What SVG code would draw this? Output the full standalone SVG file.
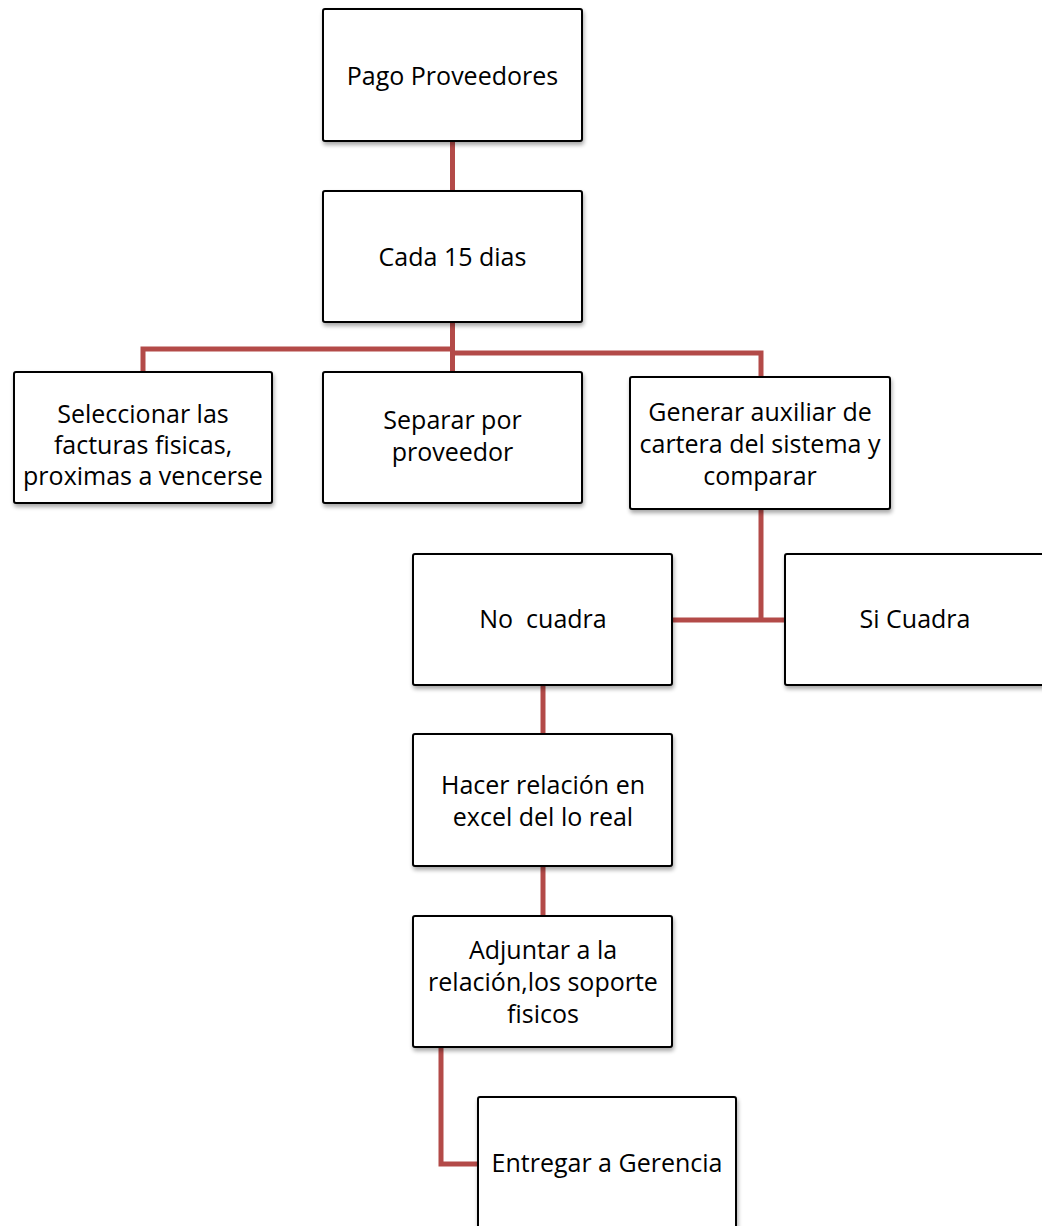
<svg xmlns="http://www.w3.org/2000/svg" width="1042" height="1226" viewBox="0 0 1042 1226">
  <defs>
    <filter id="shadow" x="-10%" y="-10%" width="130%" height="130%">
      <feGaussianBlur in="SourceAlpha" stdDeviation="2"/>
      <feOffset dx="1" dy="3" result="b"/>
      <feComponentTransfer><feFuncA type="linear" slope="0.35"/></feComponentTransfer>
      <feMerge><feMergeNode/><feMergeNode in="SourceGraphic"/></feMerge>
    </filter>
  </defs>
  <style>
    .box { fill: #ffffff; stroke: #000000; stroke-width: 2; filter: url(#shadow); }
    .lbl { font-family: "Open Sans", "Liberation Sans", sans-serif; font-size: 25px; fill: #000000; text-anchor: middle; }
    .wire { fill: none; stroke: #b34a48; stroke-width: 5; stroke-linejoin: miter; }
  </style>
  <rect width="1042" height="1226" fill="#ffffff"/>

  <g id="connectors">
    <line class="wire" x1="452.5" y1="141" x2="452.5" y2="191"/>
    <line class="wire" x1="452.5" y1="322" x2="452.5" y2="372"/>
    <polyline class="wire" points="452.5,349 143,349 143,372"/>
    <polyline class="wire" points="452.5,353 761,353 761,377"/>
    <line class="wire" x1="761" y1="509" x2="761" y2="620"/>
    <line class="wire" x1="672" y1="620" x2="785" y2="620"/>
    <line class="wire" x1="543" y1="685" x2="543" y2="734"/>
    <line class="wire" x1="543" y1="866" x2="543" y2="916"/>
    <polyline class="wire" points="441,1047 441,1164 478,1164"/>
  </g>

  <g id="pago-proveedores">
    <rect class="box" x="323" y="9" width="259" height="132" rx="2"/>
    <text class="lbl" x="452.5" y="85">Pago Proveedores</text>
  </g>

  <g id="cada-15-dias">
    <rect class="box" x="323" y="191" width="259" height="131" rx="2"/>
    <text class="lbl" x="452.5" y="266">Cada 15 dias</text>
  </g>

  <g id="seleccionar">
    <rect class="box" x="14" y="372" width="258" height="131" rx="2"/>
    <text class="lbl" x="143" y="423">Seleccionar las</text>
    <text class="lbl" x="143" y="454">facturas fisicas,</text>
    <text class="lbl" x="143" y="485">proximas a vencerse</text>
  </g>

  <g id="separar">
    <rect class="box" x="323" y="372" width="259" height="131" rx="2"/>
    <text class="lbl" x="452.5" y="429">Separar por</text>
    <text class="lbl" x="452.5" y="461">proveedor</text>
  </g>

  <g id="generar">
    <rect class="box" x="630" y="377" width="260" height="132" rx="2"/>
    <text class="lbl" x="760" y="421">Generar auxiliar de</text>
    <text class="lbl" x="760" y="453">cartera del sistema y</text>
    <text class="lbl" x="760" y="485">comparar</text>
  </g>

  <g id="no-cuadra">
    <rect class="box" x="413" y="554" width="259" height="131" rx="2"/>
    <text class="lbl" x="543" y="628" xml:space="preserve">No  cuadra</text>
  </g>

  <g id="si-cuadra">
    <rect class="box" x="785" y="554" width="270" height="131" rx="2"/>
    <text class="lbl" x="915" y="628">Si Cuadra</text>
  </g>

  <g id="hacer-relacion">
    <rect class="box" x="413" y="734" width="259" height="132" rx="2"/>
    <text class="lbl" x="543" y="794">Hacer relación en</text>
    <text class="lbl" x="543" y="826">excel del lo real</text>
  </g>

  <g id="adjuntar">
    <rect class="box" x="413" y="916" width="259" height="131" rx="2"/>
    <text class="lbl" x="543" y="959">Adjuntar a la</text>
    <text class="lbl" x="543" y="991">relación,los soporte</text>
    <text class="lbl" x="543" y="1023">fisicos</text>
  </g>

  <g id="entregar">
    <rect class="box" x="478" y="1097" width="258" height="150" rx="2"/>
    <text class="lbl" x="607" y="1172">Entregar a Gerencia</text>
  </g>
</svg>
